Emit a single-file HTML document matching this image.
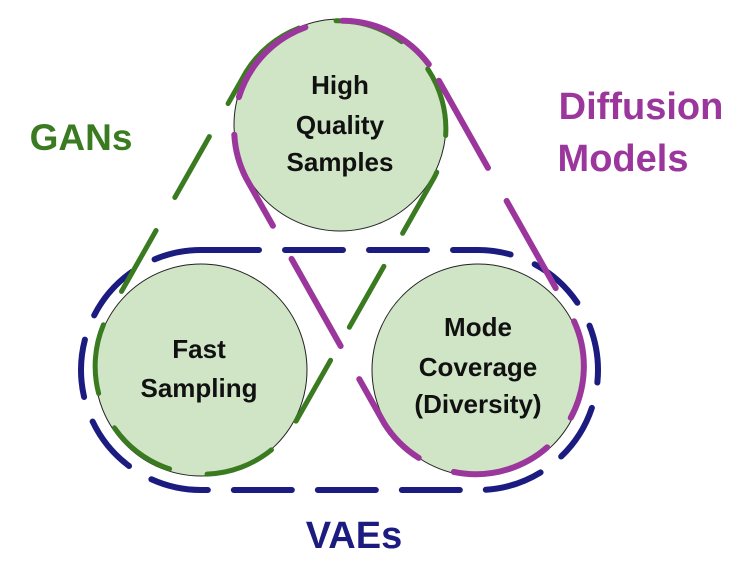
<!DOCTYPE html>
<html><head><meta charset="utf-8"><style>
html,body{margin:0;padding:0;background:#fff;}
svg{display:block;}
text{font-family:"Liberation Sans",sans-serif;font-weight:bold;text-anchor:middle;}
</style></head><body>
<svg width="735" height="576" viewBox="0 0 735 576" xmlns="http://www.w3.org/2000/svg">
<circle cx="340" cy="125" r="106" fill="#cfe5c5" stroke="#222" stroke-width="1"/>
<circle cx="201" cy="370" r="106" fill="#cfe5c5" stroke="#222" stroke-width="1"/>
<circle cx="478" cy="370" r="106" fill="#cfe5c5" stroke="#222" stroke-width="1"/>
<path d="M201,250 L478,250 A120 120 0 0 1 478,490 L201,490 A120 120 0 0 1 201,250 Z" fill="none" stroke="#1b1b80" stroke-width="6" stroke-dasharray="58 26" stroke-linecap="round"/>
<path d="M246,72 A108 108 0 0 1 434,178 L295,423 A108 108 0 0 1 107,317 Z" fill="none" stroke="#3a7a20" stroke-width="5" stroke-dasharray="70 38" stroke-linecap="round"/>
<path d="M434,72 L572,317 A108 108 0 0 1 384,423 L246,178 A108 108 0 0 1 434,72 Z" fill="none" stroke="#9b379c" stroke-width="6" stroke-dasharray="100 38" stroke-dashoffset="-10" stroke-linecap="round"/>
<g font-size="26" fill="#111">
<text x="340" y="94">High</text>
<text x="340" y="134">Quality</text>
<text x="340" y="171">Samples</text>
<text x="199" y="358">Fast</text>
<text x="199" y="397">Sampling</text>
<text x="478" y="336">Mode</text>
<text x="478" y="376">Coverage</text>
<text x="478" y="413">(Diversity)</text>
</g>
<text x="81" y="150" font-size="37" fill="#3a7a20">GANs</text>
<text x="641" y="119" font-size="38" fill="#9b379c">Diffusion</text>
<text x="623" y="171" font-size="38" fill="#9b379c">Models</text>
<text x="354" y="548" font-size="38" fill="#1b1b80">VAEs</text>
</svg>
</body></html>
